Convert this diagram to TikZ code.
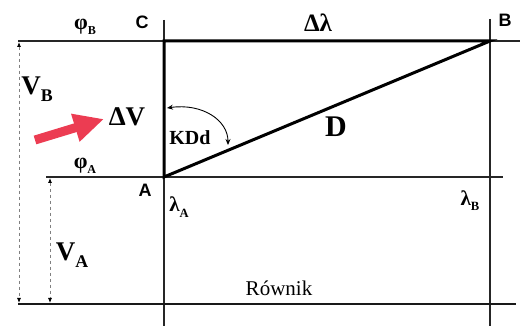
\documentclass[tikz,border=0pt]{standalone}
\usepackage{fontspec}
\usepackage{graphicx}
\setmainfont{Liberation Serif}
\newfontfamily\lsans{Liberation Sans}
\usetikzlibrary{arrows.meta}
\definecolor{arrowred}{RGB}{236,60,82}
\newcommand{\sbx}[2][0.66]{\raisebox{-0.25em}{\scalebox{#1}{#2}}}
\begin{document}
\begin{tikzpicture}[x=1pt,y=-1pt,
  thinline/.style={line width=1.2pt, black!85},
  thickline/.style={line width=3pt, black},
  eqline/.style={line width=2.4pt, black!90},
  lbl/.style={inner sep=0pt, font=\bfseries},
  ptlbl/.style={inner sep=0pt, font=\lsans\bfseries\fontsize{18}{18}\selectfont},
  dimarrow/.style={dashed, gray, line width=0.8pt,
     {Latex[black,length=5pt,width=4pt]}-{Latex[black,length=5pt,width=4pt]}}
]
\useasboundingbox (0,0) rectangle (531,326);
% key points
\coordinate (C) at (164,41);
\coordinate (A) at (164,177);
\coordinate (B) at (490,41);
\coordinate (Ltop) at (164,20);
\coordinate (Lbot) at (164,326);
\coordinate (Rtop) at (490,19);
\coordinate (Rbot) at (490,326);
\coordinate (Tl) at (18,41);
\coordinate (Tr) at (520,41);
\coordinate (Al) at (46,177);
\coordinate (Ar) at (503,177);
\coordinate (El) at (18,304);
\coordinate (Er) at (516,304);
% thin grid lines
\draw[thinline] (Ltop) -- (Lbot);
\draw[thinline] (Rtop) -- (Rbot);
\draw[thinline] (Tl) -- (Tr);
\draw[thinline] (Al) -- (Ar);
\draw[eqline] (El) -- (Er);
% triangle
\draw[thickline, line join=miter] (A) -- (C) -- (B) -- cycle;
% dimension arrows
\coordinate (VBt) at (19,42);
\coordinate (VBb) at (19,303);
\coordinate (VAt) at (50,178);
\coordinate (VAb) at (50,303);
\draw[dimarrow] (VBt) -- (VBb);
\draw[dimarrow] (VAt) -- (VAb);
% red arrow
\coordinate (rt) at (35,140);
\coordinate (rh) at (104,119);
\draw[arrowred, line width=9pt, -{Triangle[length=30pt,width=27pt]}] (rt) -- (rh);
% KDd arc
\coordinate (k1) at (167,108);
\coordinate (k2) at (228,145);
\draw[line width=0.9pt, {Stealth[length=6pt,width=5pt]}-{Stealth[length=6pt,width=5pt]}]
  (k1) .. controls (202,103) and (228,120) .. (k2);
% labels
\node[lbl, font=\bfseries\fontsize{22}{22}\selectfont] (phiB) at (85,27) {φ\sbx[0.55]{B}};
\node[lbl, font=\bfseries\fontsize{22}{22}\selectfont] (phiA) at (85,166) {φ\sbx[0.55]{A}};
\node[ptlbl] (lC) at (142,22) {C};
\node[ptlbl] (lA) at (145,190) {A};
\node[ptlbl] (lB) at (505,20) {B};
\node[lbl, font=\bfseries\fontsize{25}{25}\selectfont] (dl) at (318,23) {Δλ};
\node[lbl, font=\bfseries\fontsize{27}{27}\selectfont] (VB) at (37,89) {V\sbx{B}};
\node[lbl, font=\bfseries\fontsize{27}{27}\selectfont] (VA) at (72,255) {V\sbx{A}};
\node[lbl, font=\bfseries\fontsize{27}{27}\selectfont] (dV) at (127,117) {ΔV};
\node[lbl, font=\bfseries\fontsize{20}{20}\selectfont] (KDd) at (190,138) {KDd};
\node[lbl, font=\bfseries\fontsize{30}{30}\selectfont] (D) at (336,127) {D};
\node[lbl, font=\bfseries\fontsize{21}{21}\selectfont] (lamA) at (179,207) {λ\sbx[0.6]{A}};
\node[lbl, font=\bfseries\fontsize{21}{21}\selectfont] (lamB) at (470,201) {λ\sbx[0.6]{B}};
\node[inner sep=0pt, font=\fontsize{21}{21}\selectfont] (eq) at (279,288) {Równik};
\end{tikzpicture}
\end{document}
